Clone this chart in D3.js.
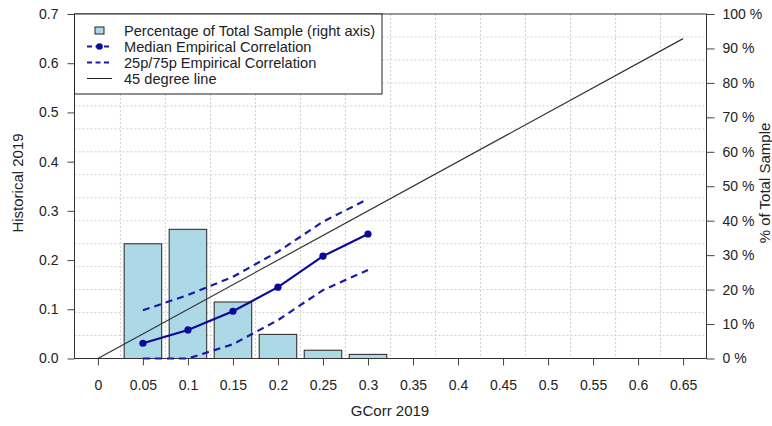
<!DOCTYPE html>
<html>
<head>
<meta charset="utf-8">
<script src="https://cdn.jsdelivr.net/npm/d3@7"></script>
<style>
  body { margin: 0; background: #fff; }
  svg { font-family: "Liberation Sans", Arial, sans-serif; }
</style>
</head>
<body>
<div id="chart"></div>
<script>
// bucket centres (GCorr 2019)
const buckets = [0.05, 0.1, 0.15, 0.2, 0.25, 0.3];
// share of total sample per bucket (right axis, %)
const pctSample = [33.3, 37.5, 16.4, 7.0, 2.4, 1.2];
// empirical correlation (Historical 2019)
const median = [0.031, 0.058, 0.096, 0.145, 0.208, 0.253];
const p75 = [0.098, 0.129, 0.166, 0.217, 0.278, 0.324];
const p25 = [0.0, 0.0, 0.029, 0.078, 0.139, 0.180];
const xTicks = [0, 0.05, 0.1, 0.15, 0.2, 0.25, 0.3, 0.35, 0.4, 0.45, 0.5, 0.55, 0.6, 0.65];
const yTicks = [0, 0.1, 0.2, 0.3, 0.4, 0.5, 0.6, 0.7];
const rTicks = [0, 0.1, 0.2, 0.3, 0.4, 0.5, 0.6, 0.7, 0.8, 0.9, 1.0];

const width = 772;
const height = 426;
const pLeft = 74.5, pRight = 706.5, pTop = 14, pBottom = 358.5;

const svg = d3.select("#chart")
    .append("svg")
    .attr("width", width)
    .attr("height", height);

const x = d3.scaleLinear().domain([-0.026, 0.676]).range([pLeft, pRight]);
const y = d3.scaleLinear().domain([0, 0.7]).range([pBottom, pTop]);
const yR = d3.scaleLinear().domain([0, 1]).range([pBottom, pTop]);

// grid
const gridX = d3.range(13).map(i => 0.025 + i * 0.05);
const gridY = d3.range(1, 15).map(i => i * 0.7 / 15);

svg.append("g").selectAll("line")
    .data(gridX)
    .enter().append("line")
    .attr("x1", d => x(d)).attr("x2", d => x(d))
    .attr("y1", pTop).attr("y2", pBottom)
    .attr("stroke", "#d0d0d0")
    .attr("stroke-dasharray", "2,2");

svg.append("g").selectAll("line")
    .data(gridY)
    .enter().append("line")
    .attr("x1", pLeft).attr("x2", pRight)
    .attr("y1", d => y(d)).attr("y2", d => y(d))
    .attr("stroke", "#d0d0d0")
    .attr("stroke-dasharray", "2,2");

// bars (right axis)
const barW = 0.0417;
svg.append("g").selectAll("rect")
    .data(buckets)
    .enter().append("rect")
    .attr("x", d => x(d - barW / 2))
    .attr("width", x(barW) - x(0))
    .attr("y", (d, i) => yR(pctSample[i] / 100))
    .attr("height", (d, i) => pBottom - yR(pctSample[i] / 100))
    .attr("fill", "#add8e6")
    .attr("stroke", "#222")
    .attr("stroke-width", 1);

// frame
svg.append("rect")
    .attr("x", pLeft).attr("y", pTop)
    .attr("width", pRight - pLeft).attr("height", pBottom - pTop)
    .attr("fill", "none")
    .attr("stroke", "#333");

// 45 degree line
svg.append("line")
    .attr("x1", x(0)).attr("y1", y(0))
    .attr("x2", x(0.65)).attr("y2", y(0.65))
    .attr("stroke", "#333")
    .attr("stroke-width", 1.2);

const line = d3.line()
    .x((d, i) => x(buckets[i]))
    .y(d => y(d));

[p75, p25].forEach(s => {
    svg.append("path")
        .attr("d", line(s))
        .attr("fill", "none")
        .attr("stroke", "#1a1aa8")
        .attr("stroke-width", 2.2)
        .attr("stroke-dasharray", "7,5");
});

svg.append("path")
    .attr("d", line(median))
    .attr("fill", "none")
    .attr("stroke", "#0a0a9a")
    .attr("stroke-width", 2.2);

svg.append("g").selectAll("circle")
    .data(median)
    .enter().append("circle")
    .attr("cx", (d, i) => x(buckets[i]))
    .attr("cy", d => y(d))
    .attr("r", 3.6)
    .attr("fill", "#0a0a9a");

// axes
const fmtX = d => String(+d.toFixed(2));

const gx = svg.append("g")
    .attr("transform", `translate(0,${pBottom})`)
    .call(d3.axisBottom(x).tickValues(xTicks).tickFormat(fmtX).tickSize(7).tickPadding(15).tickSizeOuter(0));

const gy = svg.append("g")
    .attr("transform", `translate(${pLeft},0)`)
    .call(d3.axisLeft(y).tickValues(yTicks).tickFormat(d3.format(".1f")).tickSize(7).tickPadding(9).tickSizeOuter(0));

const gr = svg.append("g")
    .attr("transform", `translate(${pRight},0)`)
    .call(d3.axisRight(yR).tickValues(rTicks).tickFormat(d => Math.round(d * 100) + " %").tickSize(8).tickPadding(8).tickSizeOuter(0));

[gx, gy, gr].forEach(g => {
    g.select(".domain").remove();
    g.selectAll(".tick line").attr("stroke", "#444");
    g.selectAll(".tick text")
        .attr("fill", "#222")
        .style("font-size", "14px")
        .style("font-family", "\"Liberation Sans\", Arial, sans-serif");
});

// axis titles
svg.append("text")
    .attr("x", 390)
    .attr("y", 416)
    .attr("text-anchor", "middle")
    .style("font-size", "15px")
    .attr("fill", "#222")
    .text("GCorr 2019");

svg.append("text")
    .attr("transform", "translate(23,183) rotate(-90)")
    .attr("text-anchor", "middle")
    .style("font-size", "15px")
    .attr("fill", "#222")
    .text("Historical 2019");

svg.append("text")
    .attr("transform", "translate(770,183) rotate(-90)")
    .attr("text-anchor", "middle")
    .style("font-size", "15px")
    .attr("fill", "#222")
    .text("% of Total Sample");

// legend
const legend = svg.append("g");
legend.append("rect")
    .attr("x", pLeft).attr("y", pTop)
    .attr("width", 382 - pLeft).attr("height", 94 - pTop)
    .attr("fill", "#fff")
    .attr("stroke", "#222");

const items = [
    "Percentage of Total Sample (right axis)",
    "Median Empirical Correlation",
    "25p/75p Empirical Correlation",
    "45 degree line"
];

items.forEach((label, i) => {
    const cy = 30.5 + i * 16;
    if (i === 0) {
        legend.append("rect")
            .attr("x", 95).attr("y", cy - 3.5)
            .attr("width", 9).attr("height", 7)
            .attr("fill", "#add8e6")
            .attr("stroke", "#222");
    } else if (i === 1 || i === 2) {
        legend.append("line")
            .attr("x1", 87).attr("x2", 112)
            .attr("y1", cy).attr("y2", cy)
            .attr("stroke", "#1a1aa8")
            .attr("stroke-width", 2.2)
            .attr("stroke-dasharray", "5,3.5");
        if (i === 1) {
            legend.append("circle")
                .attr("cx", 99.5).attr("cy", cy).attr("r", 3.3)
                .attr("fill", "#0a0a9a");
        }
    } else {
        legend.append("line")
            .attr("x1", 87).attr("x2", 112)
            .attr("y1", cy).attr("y2", cy)
            .attr("stroke", "#222");
    }
    legend.append("text")
        .attr("x", 124)
        .attr("y", cy)
        .attr("dy", "0.35em")
        .style("font-size", "14.6px")
        .attr("fill", "#222")
        .text(label);
});
</script>
</body>
</html>
